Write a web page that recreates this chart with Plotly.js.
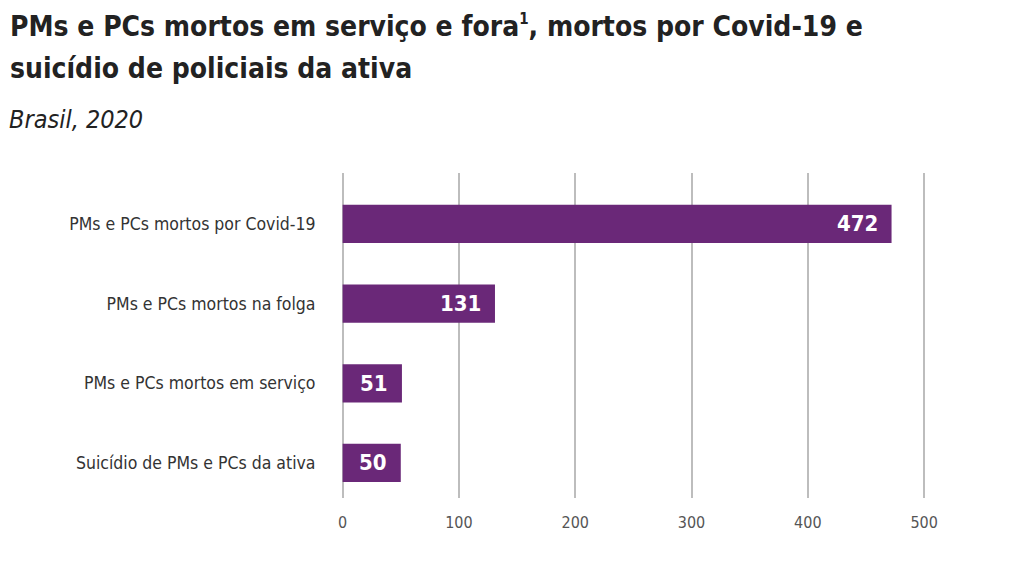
<!DOCTYPE html>
<html>
<head>
<meta charset="utf-8">
<script src="https://cdn.plot.ly/plotly-3.0.1.min.js"></script>
<style>html,body{margin:0;padding:0;background:#fff;}#chart{width:1023px;height:575px;}</style>
</head>
<body>
<div id="chart"></div>
<script>
const categories = [
  "PMs e PCs mortos por Covid-19",
  "PMs e PCs mortos na folga",
  "PMs e PCs mortos em serviço",
  "Suicídio de PMs e PCs da ativa"
];
const values = [472, 131, 51, 50];
const xTicks = [0, 100, 200, 300, 400, 500];
const titleLines = [
  "PMs e PCs mortos em serviço e fora<sup><span style=\"font-size:15px\">1</span></sup>, mortos por Covid-19 e",
  "suicídio de policiais da ativa"
];
const subtitle = "Brasil, 2020";

const narrow = '"DejaVu Sans Condensed", "DejaVu Sans", sans-serif';
const barColor = '#6a2878';

const W = 1023, H = 575;
const M = {l: 331, r: 64, t: 173, b: 77};
const PW = W - M.l - M.r, PH = H - M.t - M.b;
const px = x => (x - M.l) / PW;
const py = y => 1 - (y - M.t) / PH;

const trace = {
  type: 'bar',
  orientation: 'h',
  y: categories,
  x: values,
  width: 0.48,
  marker: {color: barColor},
  hoverinfo: 'none'
};

const annotations = categories.map((c, i) => ({
  x: values[i], y: c, xref: 'x', yref: 'y',
  text: '<b>' + values[i] + '</b>',
  showarrow: false, xanchor: 'right', yanchor: 'middle', xshift: -12,
  font: {family: narrow, size: 22, color: '#ffffff'}
}));

const titleCenters = [27, 69];
titleLines.forEach((t, i) => annotations.push({
  xref: 'paper', yref: 'paper', x: px(8), y: py(titleCenters[i]),
  xanchor: 'left', yanchor: 'middle', showarrow: false,
  text: '<b>' + t + '</b>',
  font: {family: narrow, size: 28, color: '#222222'}
}));

annotations.push({
  xref: 'paper', yref: 'paper', x: px(7), y: py(120),
  xanchor: 'left', yanchor: 'middle', showarrow: false,
  text: '<i>' + subtitle + '</i>',
  font: {family: narrow, size: 25, color: '#222222'}
});

const layout = {
  width: W, height: H,
  margin: M,
  paper_bgcolor: '#ffffff', plot_bgcolor: '#ffffff',
  showlegend: false,
  xaxis: {
    range: [-10, 530],
    tickvals: xTicks,
    ticktext: xTicks.map(String),
    showgrid: true, gridcolor: '#bdbdbd', gridwidth: 2,
    zeroline: false, showline: false,
    ticks: 'outside', ticklen: 10, tickcolor: 'rgba(0,0,0,0)',
    tickfont: {family: narrow, size: 16, color: '#555555'},
    fixedrange: true
  },
  yaxis: {
    range: [3.44, -0.64],
    showgrid: false, zeroline: false, showline: false,
    ticks: 'outside', ticklen: 11, tickcolor: 'rgba(0,0,0,0)',
    tickfont: {family: narrow, size: 17.5, color: '#333333'},
    fixedrange: true
  },
  annotations: annotations
};

Plotly.newPlot('chart', [trace], layout, {displayModeBar: false, staticPlot: true});
</script>
</body>
</html>
